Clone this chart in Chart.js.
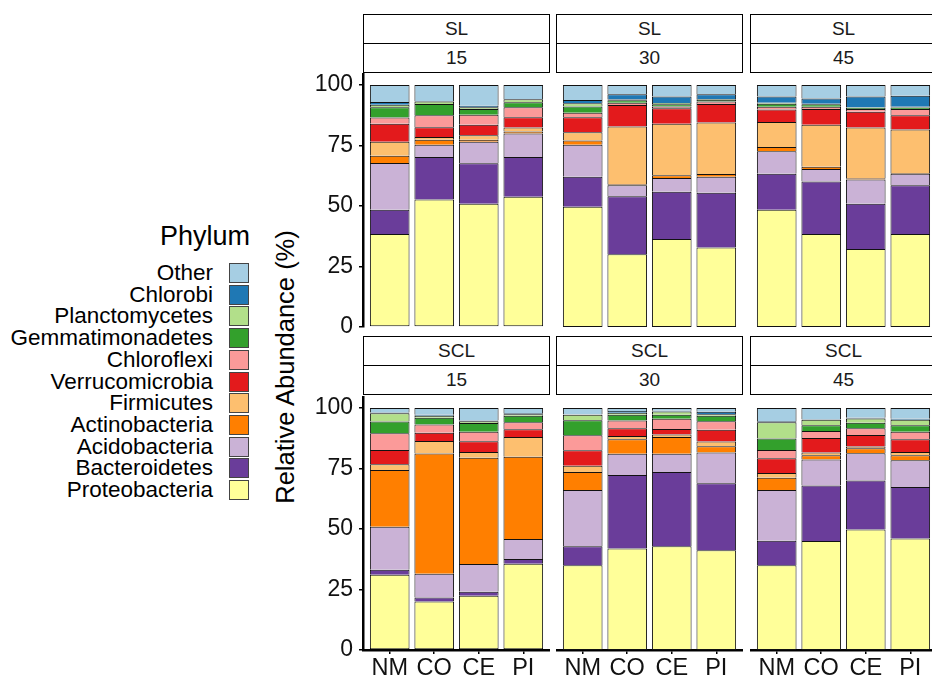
<!DOCTYPE html>
<html>
<head>
<meta charset="utf-8">
<title>Relative abundance by phylum</title>
<script src="https://cdn.jsdelivr.net/npm/chart.js@4.4.0/dist/chart.umd.min.js"></script>
<style>
  body {
    margin: 0;
    width: 932px;
    height: 681px;
    overflow: hidden;
    position: relative;
    background: #fff;
    font-family: "Liberation Sans", Arial, sans-serif;
  }
  canvas { position: absolute; }
  .strip {
    position: absolute;
    box-sizing: border-box;
    border: 1.5px solid #000;
    background: #fff;
    color: #1a1a1a;
    font-size: 19px;
    text-align: center;
  }
  .strip div { box-sizing: border-box; }
  .strip div:first-child { border-bottom: 1.5px solid #000; }
  .y-title {
    position: absolute;
    left: 285px;
    top: 367px;
    transform: translate(-50%, -50%) rotate(-90deg);
    white-space: nowrap;
    font-size: 25.5px;
    color: #000;
  }
  .legend-title {
    position: absolute;
    left: 160px;
    top: 220px;
    font-size: 27px;
    line-height: 32px;
    color: #000;
  }
  .legend-label {
    position: absolute;
    right: 719px;
    font-size: 22.5px;
    line-height: 22px;
    color: #000;
    white-space: nowrap;
  }
  .legend-key {
    position: absolute;
    left: 229px;
    width: 20px;
    height: 20px;
    box-sizing: border-box;
    border: 1px solid #444;
  }
</style>
</head>
<body>
<div class="y-title">Relative Abundance (%)</div>
<div class="legend-title">Phylum</div>

<script>
// stacking order, bottom to top
const phyla = ['Proteobacteria', 'Bacteroidetes', 'Acidobacteria', 'Actinobacteria', 'Firmicutes',
  'Verrucomicrobia', 'Chloroflexi', 'Gemmatimonadetes', 'Planctomycetes', 'Chlorobi', 'Other'];
const phylumColors = ['#FFFF99', '#6A3D9A', '#CAB2D6', '#FF7F00', '#FDBF6F',
  '#E31A1C', '#FB9A99', '#33A02C', '#B2DF8A', '#1F78B4', '#A6CEE3'];
const treatments = ['NM', 'CO', 'CE', 'PI'];
const soils = ['SL', 'SCL'];
const depths = ['15', '30', '45'];
const yTicks = [0, 25, 50, 75, 100];

// relative abundance (%), one row per phylum, columns NM / CO / CE / PI
const SL_15 = [
  [38.4, 52.7, 51.0, 53.8],
  [10.1, 17.6, 16.7, 16.5],
  [19.3, 5.0, 8.9, 9.7],
  [3.0, 2.1, 0.8, 0.8],
  [5.8, 1.1, 1.9, 1.7],
  [7.4, 4.1, 4.3, 4.2],
  [2.6, 4.9, 4.1, 4.1],
  [4.2, 4.7, 2.4, 2.1],
  [1.1, 1.0, 0.7, 1.2],
  [1.1, 0.2, 0.7, 0.1],
  [7.0, 6.6, 8.5, 5.8]
];
const SL_30 = [
  [49.7, 30.1, 36.4, 32.9],
  [12.4, 23.9, 19.5, 22.6],
  [13.2, 4.6, 5.7, 6.6],
  [1.8, 0.4, 1.1, 1.1],
  [3.4, 23.9, 21.3, 21.3],
  [6.2, 8.9, 6.4, 7.7],
  [1.9, 0.9, 0.7, 1.0],
  [2.5, 1.0, 1.0, 0.6],
  [1.4, 0.3, 0.5, 0.3],
  [1.3, 2.2, 2.7, 2.1],
  [6.2, 3.8, 4.7, 3.8]
];
const SL_45 = [
  [48.5, 38.4, 32.2, 38.4],
  [14.8, 21.7, 18.8, 20.2],
  [9.4, 5.2, 10.0, 4.7],
  [1.7, 0.9, 0.5, 0.4],
  [10.3, 17.4, 21.0, 17.9],
  [5.2, 6.5, 6.5, 5.9],
  [1.1, 0.9, 1.1, 2.6],
  [1.3, 1.1, 0.4, 0.6],
  [0.4, 0.2, 0.2, 0.3],
  [2.6, 2.2, 4.6, 4.6],
  [4.7, 5.5, 4.7, 4.4]
];
const SCL_15 = [
  [31.1, 20.1, 22.4, 35.7],
  [2.1, 1.6, 1.7, 1.9],
  [17.7, 9.8, 11.4, 8.3],
  [23.5, 49.7, 44.0, 34.0],
  [2.4, 5.2, 2.4, 8.2],
  [5.9, 3.4, 4.4, 3.2],
  [6.9, 3.4, 3.9, 2.8],
  [4.9, 2.8, 3.6, 2.7],
  [3.4, 0.8, 0.8, 0.7],
  [0.3, 0.4, 0.3, 0.4],
  [1.8, 2.8, 5.1, 2.1]
];
const SCL_30 = [
  [35.0, 42.0, 42.9, 41.2],
  [7.9, 30.3, 30.7, 27.7],
  [23.2, 8.8, 7.5, 12.7],
  [7.5, 6.0, 7.0, 2.6],
  [2.6, 1.4, 1.0, 2.0],
  [6.4, 3.2, 2.3, 4.8],
  [6.2, 3.2, 4.2, 3.6],
  [6.2, 2.3, 1.6, 2.2],
  [2.2, 0.9, 1.4, 0.7],
  [0.2, 0.7, 0.3, 1.0],
  [2.6, 1.2, 1.1, 1.5]
];
const SCL_45 = [
  [35.0, 45.1, 49.8, 46.1],
  [10.2, 22.9, 20.3, 21.3],
  [20.9, 10.8, 11.2, 11.0],
  [5.1, 1.7, 2.1, 2.1],
  [2.0, 1.1, 0.7, 1.4],
  [6.1, 6.0, 4.8, 5.2],
  [3.4, 2.9, 2.8, 3.1],
  [4.7, 2.4, 2.2, 2.7],
  [6.8, 2.3, 1.8, 2.3],
  [0.4, 0.2, 0.3, 0.4],
  [5.4, 4.6, 4.0, 4.4]
];
const panelData = [[SL_15, SL_30, SL_45], [SCL_15, SCL_30, SCL_45]];

// facet geometry (plot areas)
const FONT = '"Liberation Sans", Arial, sans-serif';
const COL_LEFT = [363, 556, 750];
const PANEL_W = 187;
const ROW_TOP = [73, 396];
const PANEL_H = 254;
const STRIP_TOP = [14, 336];
const STRIP_H = 29.5;
const Y_AXIS_W = 70;
const X_AXIS_H = 32;
const LABEL_ROOM = 14; // room under the upper panels for the "0" tick label

function addStrip(row, col) {
  const box = document.createElement('div');
  box.className = 'strip';
  box.style.left = COL_LEFT[col] + 'px';
  box.style.top = STRIP_TOP[row] + 'px';
  box.style.width = PANEL_W + 'px';
  box.style.height = (STRIP_H * 2) + 'px';
  [soils[row], depths[col]].forEach(txt => {
    const line = document.createElement('div');
    line.textContent = txt;
    line.style.height = (STRIP_H - 1) + 'px';
    line.style.lineHeight = (STRIP_H - 2) + 'px';
    box.appendChild(line);
  });
  document.body.appendChild(box);
}

function addLegend() {
  const order = phyla.map((p, k) => k).reverse();
  order.forEach((k, i) => {
    const y = 263 + i * 21.7;
    const key = document.createElement('div');
    key.className = 'legend-key';
    key.style.top = y + 'px';
    key.style.background = phylumColors[k];
    document.body.appendChild(key);

    const label = document.createElement('div');
    label.className = 'legend-label';
    label.style.top = (y - 1) + 'px';
    label.textContent = phyla[k];
    document.body.appendChild(label);
  });
}

function makePanel(row, col) {
  const values = panelData[row][col];
  const showY = col === 0;
  const showX = row === 1;
  const w = PANEL_W + (showY ? Y_AXIS_W : 0);
  const h = PANEL_H + (showX ? X_AXIS_H : LABEL_ROOM);

  const canvas = document.createElement('canvas');
  canvas.width = w;
  canvas.height = h;
  canvas.style.width = w + 'px';
  canvas.style.height = h + 'px';
  canvas.style.left = (COL_LEFT[col] - (showY ? Y_AXIS_W : 0)) + 'px';
  canvas.style.top = ROW_TOP[row] + 'px';
  document.body.appendChild(canvas);

  const datasets = phyla.map((name, k) => ({
    label: name,
    data: values[k].map((v, i) => ({ x: i, y: v })),
    backgroundColor: phylumColors[k],
    borderColor: '#111',
    borderWidth: k === 0 ? 1 : { top: 1, left: 1, right: 1, bottom: 0 },
    borderSkipped: false,
    barPercentage: 0.89,
    categoryPercentage: 1
  }));

  new Chart(canvas, {
    type: 'bar',
    data: { datasets },
    options: {
      responsive: false,
      animation: false,
      events: [],
      layout: { padding: { bottom: showX ? 0 : LABEL_ROOM } },
      plugins: {
        legend: { display: false },
        tooltip: { enabled: false }
      },
      scales: {
        x: {
          type: 'linear',
          stacked: true,
          offset: false,
          min: -0.6,
          max: 3.6,
          display: showX,
          afterBuildTicks: s => { s.ticks = treatments.map((t, i) => ({ value: i })); },
          afterFit: s => {
            s.paddingLeft = 0;
            s.paddingRight = 0;
            if (showX) s.height = X_AXIS_H;
          },
          grid: { offset: false, drawOnChartArea: false, color: '#000', lineWidth: 1.5, tickLength: 4 },
          border: { color: '#000', width: 2.5 },
          ticks: {
            callback: v => treatments[v],
            autoSkip: false,
            maxRotation: 0,
            padding: 0,
            color: '#111',
            font: { family: FONT, size: 23.5 }
          }
        },
        y: {
          stacked: true,
          min: 0,
          max: 105,
          display: showY,
          afterBuildTicks: s => { s.ticks = yTicks.map(v => ({ value: v })); },
          afterFit: s => {
            s.paddingTop = 0;
            s.paddingBottom = 0;
            if (showY) s.width = Y_AXIS_W;
          },
          grid: { drawOnChartArea: false, color: '#000', lineWidth: 1.5, tickLength: 4 },
          border: { color: '#000', width: 2.5 },
          ticks: {
            padding: 6,
            color: '#111',
            font: { family: FONT, size: 23 }
          }
        }
      }
    }
  });
}

addLegend();
for (let r = 0; r < 2; r++) {
  for (let c = 0; c < 3; c++) {
    addStrip(r, c);
    makePanel(r, c);
  }
}
</script>
</body>
</html>
